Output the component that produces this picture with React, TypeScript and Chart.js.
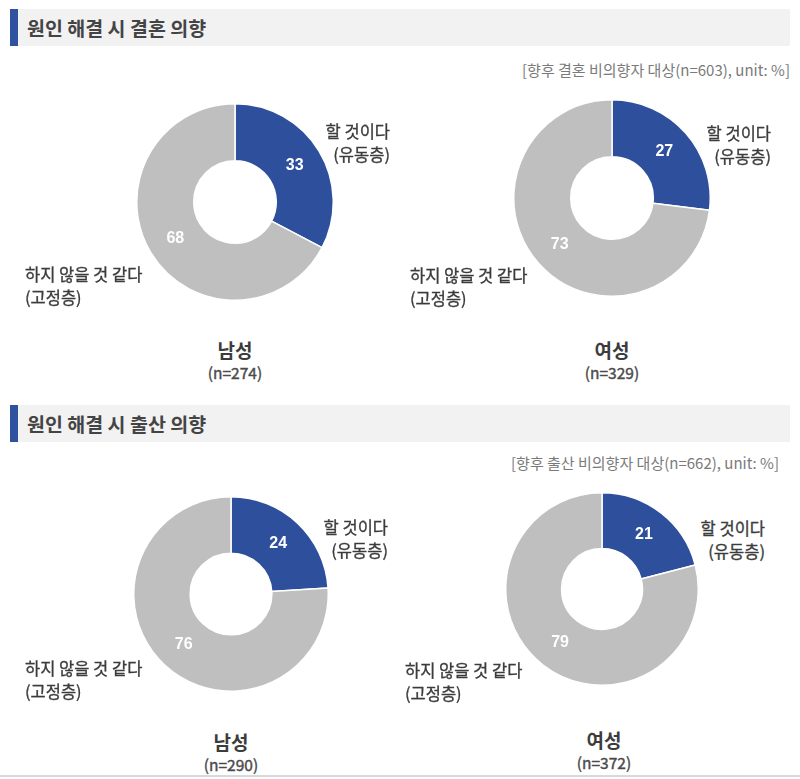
import React, { useEffect, useRef } from 'react';
import { Chart, registerables } from 'chart.js';

Chart.register(...registerables);

// ---- data ----
const categories = ['할 것이다', '하지 않을 것 같다'];
const groupNames = ['(유동층)', '(고정층)'];
const marriageMale = [33, 68];
const marriageFemale = [27, 73];
const birthMale = [24, 76];
const birthFemale = [21, 79];
const sexLabels = ['남성', '여성'];
const marriageN = [274, 329];
const birthN = [290, 372];
const sectionTitles = ['원인 해결 시 결혼 의향', '원인 해결 시 출산 의향'];
const sectionNotes = [
  '[향후 결혼 비의향자 대상(n=603), unit: %]',
  '[향후 출산 비의향자 대상(n=662), unit: %]',
];

// ---- styles ----
const sliceColors = ['#2E4F9C', '#BFBFBF'];
const KR = "'Noto Sans CJK KR', 'Noto Sans', sans-serif";
const textColor = '#3c3c3c';

const valueLabelPlugin = {
  id: 'valueLabels',
  afterDatasetsDraw(chart: any) {
    const ctx = chart.ctx;
    const meta = chart.getDatasetMeta(0);
    const data = chart.data.datasets[0].data;
    meta.data.forEach((arc: any, i: number) => {
      const p = arc.tooltipPosition(false);
      ctx.save();
      ctx.fillStyle = '#ffffff';
      ctx.font = "bold 16px 'Liberation Sans', Arial, sans-serif";
      ctx.textAlign = 'center';
      ctx.textBaseline = 'middle';
      ctx.fillText(String(data[i]), p.x, p.y);
      ctx.restore();
    });
  },
};

type DonutProps = {
  values: number[];
  cx: number;
  cy: number;
  r: number;
  rightEdge: number;
  rightY: number;
  leftX: number;
  leftY: number;
  bottomX: number;
  bottomY: number;
  sex: string;
  n: number;
};

function Donut(p: DonutProps) {
  const ref = useRef<HTMLCanvasElement | null>(null);
  const size = Math.round(p.r * 2 + 2);
  useEffect(() => {
    if (!ref.current) return;
    const chart = new Chart(ref.current, {
      type: 'doughnut',
      data: {
        labels: categories,
        datasets: [
          {
            data: p.values,
            backgroundColor: sliceColors,
            borderColor: '#ffffff',
            borderWidth: 1.5,
          },
        ],
      },
      options: {
        responsive: false,
        animation: false,
        devicePixelRatio: 1,
        cutout: '42%',
        layout: { padding: 0 },
        plugins: { legend: { display: false }, tooltip: { enabled: false } },
      },
      plugins: [valueLabelPlugin],
    });
    return () => chart.destroy();
  }, []);

  const labelStyle: React.CSSProperties = {
    position: 'absolute',
    fontFamily: KR,
    fontSize: 16.5,
    fontWeight: 400,
    color: textColor,
    lineHeight: '23px',
    whiteSpace: 'nowrap',
    WebkitTextStroke: '0.35px #3c3c3c',
  };

  return (
    <>
      <canvas
        ref={ref}
        width={size}
        height={size}
        style={{ position: 'absolute', left: p.cx - size / 2, top: p.cy - size / 2, width: size, height: size }}
      />
      <div style={{ ...labelStyle, right: 800 - p.rightEdge, top: p.rightY - 11.5, textAlign: 'right' }}>
        {categories[0]}
        <br />
        {groupNames[0]}
      </div>
      <div style={{ ...labelStyle, left: p.leftX, top: p.leftY - 11.5, textAlign: 'left' }}>
        {categories[1]}
        <br />
        {groupNames[1]}
      </div>
      <div
        style={{
          position: 'absolute',
          left: p.bottomX - 60,
          width: 120,
          top: p.bottomY - 12,
          textAlign: 'center',
          fontFamily: KR,
          color: textColor,
          whiteSpace: 'nowrap',
        }}
      >
        <div style={{ fontSize: 19, fontWeight: 700, lineHeight: '24px' }}>{p.sex}</div>
        <div style={{ fontSize: 15.5, fontWeight: 400, lineHeight: '20px', color: '#4a4a4a', WebkitTextStroke: '0.4px #4a4a4a' }}>
          (n={p.n})
        </div>
      </div>
    </>
  );
}

function Header({ top, title }: { top: number; title: string }) {
  return (
    <>
      <div style={{ position: 'absolute', left: 10, top, width: 780, height: 37, background: '#f2f2f2' }} />
      <div style={{ position: 'absolute', left: 10, top, width: 8, height: 37, background: '#2F52A0' }} />
      <div
        style={{
          position: 'absolute',
          left: 27,
          top,
          height: 37,
          lineHeight: '37px',
          fontFamily: KR,
          fontSize: 19.5,
          fontWeight: 700,
          color: '#444444',
          whiteSpace: 'nowrap',
        }}
      >
        {title}
      </div>
    </>
  );
}

function Note({ right, y, text }: { right: number; y: number; text: string }) {
  return (
    <div
      style={{
        position: 'absolute',
        right: 800 - right,
        top: y - 10,
        lineHeight: '20px',
        fontFamily: KR,
        fontSize: 15,
        color: '#7a7a7a',
        whiteSpace: 'nowrap',
      }}
    >
      {text}
    </div>
  );
}

export default function App() {
  return (
    <div
      style={{
        position: 'fixed',
        left: 0,
        top: 0,
        width: 800,
        height: 779,
        background: '#ffffff',
        overflow: 'hidden',
      }}
    >
      <Header top={9} title={sectionTitles[0]} />
      <Note right={790} y={70} text={sectionNotes[0]} />
      <Donut values={marriageMale} cx={235} cy={202} r={98} rightEdge={390} rightY={131} leftX={25} leftY={274}
        bottomX={235} bottomY={350} sex={sexLabels[0]} n={marriageN[0]} />
      <Donut values={marriageFemale} cx={612} cy={198} r={98} rightEdge={771} rightY={133} leftX={410} leftY={275}
        bottomX={612} bottomY={350} sex={sexLabels[1]} n={marriageN[1]} />

      <Header top={405} title={sectionTitles[1]} />
      <Note right={779} y={463} text={sectionNotes[1]} />
      <Donut values={birthMale} cx={231} cy={594} r={97} rightEdge={388} rightY={527} leftX={25} leftY={668}
        bottomX={231} bottomY={742} sex={sexLabels[0]} n={birthN[0]} />
      <Donut values={birthFemale} cx={602} cy={589} r={96} rightEdge={765} rightY={528} leftX={405} leftY={670}
        bottomX={604} bottomY={740} sex={sexLabels[1]} n={birthN[1]} />

      <div style={{ position: 'absolute', left: 0, top: 775, width: 800, height: 2, background: '#d9d9d9' }} />
    </div>
  );
}
